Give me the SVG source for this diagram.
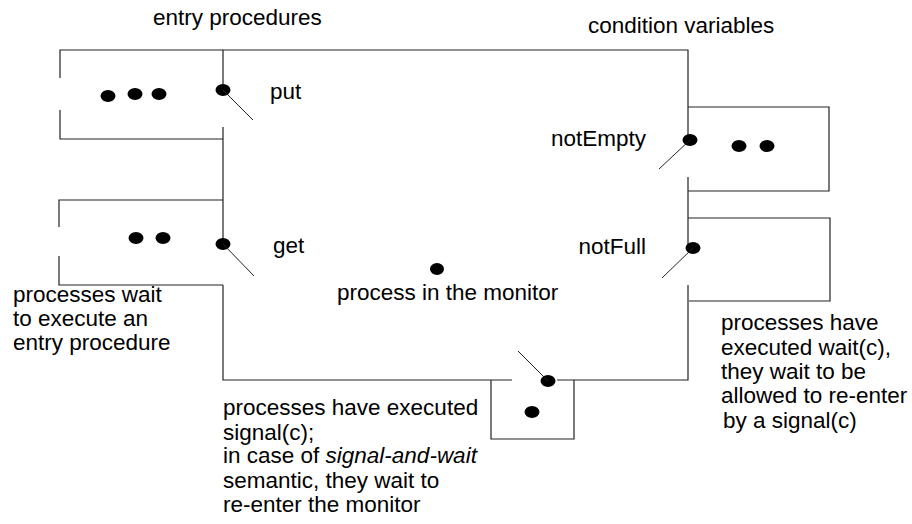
<svg xmlns="http://www.w3.org/2000/svg" width="912" height="524" viewBox="0 0 912 524">
<style>
  .ln { stroke: #222; stroke-width: 1.2; fill: none; }
  .door { stroke: #222; stroke-width: 1; fill: none; }
  .dot { fill: #000; }
  .t { font-family: "Liberation Sans", Arial, sans-serif; font-size: 22.5px; fill: #000; }
</style>
<rect width="912" height="524" fill="#fff"/>
<g id="monitor">
  <path class="ln" d="M223 90 V50 H688 V140 M688 177 V248 M688 285 V380 H557 M512 380 H223 V285 M223 240 V127"/>
  <ellipse class="dot" cx="437" cy="269" rx="7" ry="6"/>
  <text class="t" x="337" y="300">process in the monitor</text>
</g>
<g id="entry-put">
  <path class="ln" d="M223 50 H60 V78 M60 110 V139 H223"/>
  <ellipse class="dot" cx="108" cy="96" rx="7.5" ry="6"/>
  <ellipse class="dot" cx="135" cy="94" rx="7.5" ry="6"/>
  <ellipse class="dot" cx="159" cy="94" rx="7.5" ry="6"/>
  <ellipse class="dot" cx="223" cy="90" rx="7.5" ry="6"/>
  <text class="t" x="270" y="99">put</text>
</g>
<g id="entry-get">
  <path class="ln" d="M223 200 H59 V227 M59 256 V285 H223"/>
  <ellipse class="dot" cx="136" cy="238" rx="7.5" ry="6"/>
  <ellipse class="dot" cx="163" cy="238" rx="7.5" ry="6"/>
  <ellipse class="dot" cx="223" cy="244" rx="7.5" ry="6"/>
  <text class="t" x="273" y="253">get</text>
</g>
<g id="cond-notEmpty">
  <path class="ln" d="M688 107 H829 V191 H688"/>
  <ellipse class="dot" cx="739" cy="146" rx="7.5" ry="6"/>
  <ellipse class="dot" cx="767" cy="146" rx="7.5" ry="6"/>
  <ellipse class="dot" cx="690" cy="140" rx="7.5" ry="6"/>
  <text class="t" x="646" y="146" text-anchor="end">notEmpty</text>
</g>
<g id="cond-notFull">
  <path class="ln" d="M688 218 H830 V301 H689"/>
  <ellipse class="dot" cx="693" cy="248" rx="7.5" ry="6"/>
  <text class="t" x="646" y="254" text-anchor="end">notFull</text>
</g>
<g id="signal-queue">
  <path class="ln" d="M491 380 V439 H574 V380"/>
  <ellipse class="dot" cx="532" cy="412" rx="7.5" ry="6"/>
  <ellipse class="dot" cx="548" cy="381" rx="7.5" ry="6"/>
</g>
<g id="connectors">
  <line class="door" x1="223" y1="90" x2="253" y2="120"/>
  <line class="door" x1="223" y1="244" x2="254" y2="276"/>
  <line class="door" x1="690" y1="140" x2="659" y2="169"/>
  <line class="door" x1="693" y1="248" x2="662" y2="278"/>
  <line class="door" x1="548" y1="381" x2="518" y2="351"/>
</g>
<g id="labels">
  <text class="t" x="153" y="25">entry procedures</text>
  <text class="t" x="588" y="33">condition variables</text>
  <text class="t" x="13" y="302">processes wait</text>
  <text class="t" x="13" y="326">to execute an</text>
  <text class="t" x="13" y="350">entry procedure</text>
  <text class="t" x="721" y="330">processes have</text>
  <text class="t" x="721" y="355">executed wait(c),</text>
  <text class="t" x="721" y="379">they wait to be</text>
  <text class="t" x="721" y="403">allowed to re-enter</text>
  <text class="t" x="723" y="428">by a signal(c)</text>
  <text class="t" x="223" y="415">processes have executed</text>
  <text class="t" x="223" y="440">signal(c);</text>
  <text class="t" x="223" y="463">in case of <tspan font-style="italic">signal-and-wait</tspan></text>
  <text class="t" x="223" y="488">semantic, they wait to</text>
  <text class="t" x="223" y="512">re-enter the monitor</text>
</g>
</svg>
